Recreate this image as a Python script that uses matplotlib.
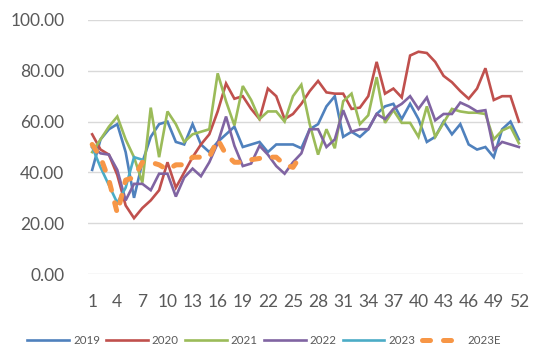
import matplotlib
matplotlib.use("Agg")
import matplotlib.pyplot as plt

weeks = list(range(1, 53))
y2019 = [41, 53, 57, 59, 48, 30, 44, 54, 59, 60, 52, 51, 59, 51, 48, 52, 55, 58, 50, 51,
         52, 48, 51, 51, 51, 49.5, 57, 59, 66, 70, 54, 56, 54, 57, 63, 66, 67, 61, 67, 61,
         52, 54, 60, 55, 59, 51, 49, 50, 46, 57, 60, 53]
y2020 = [55, 49, 47, 39, 27, 22, 26, 29, 33, 44, 34, 40, 46, 51, 55, 64, 75, 69, 70, 65,
         61, 73, 70, 61, 63, 67, 72, 76, 71.5, 71, 71, 65, 65.5, 70, 83.5, 71, 73, 69.5, 86, 87.5,
         87, 83.5, 78, 75.5, 72, 69, 73, 81, 68.5, 70, 70, 60]
y2021 = [48, 53, 58, 62, 53, 46, 36, 65.5, 46, 64, 59, 52, 55, 56, 57, 79, 68, 58.5, 74, 68.5,
         61, 64, 64, 60, 70, 74.5, 59, 47, 57, 49.5, 68, 71, 59, 62.5, 77.5, 59.5, 64.5, 59.5, 59.5, 54,
         66, 54, 59.5, 65, 64, 63.5, 63.5, 63, 53, 56.5, 58, 51.5]
y2022 = [50, 47.5, 47, 41, 29, 35.5, 35.5, 33, 39.5, 39.5, 30.5, 38, 41.5, 38.5, 44, 51.5, 62, 50.5, 42.5, 43.5,
         50.5, 47, 42.5, 39.5, 44, 47.5, 57, 57, 50, 53, 64.5, 56, 57, 57, 63, 61, 65, 67, 70, 65,
         69.5, 60.5, 63, 63, 67.5, 66, 64, 64.5, 49, 52, 51, 50]
y2023 = [50, 42, 35, 28, 34, 46, 45]
y2023e = [51, 46, 37, 24, 37, 38, 44, 44, 43, 41, 43, 43, 46, 46, 46, 53, 47, 44, 44, 45,
          45.5, 46, 46, 43, 42, 47]
series_names = ["2019", "2020", "2021", "2022", "2023", "2023E"]
yticks = [0, 20, 40, 60, 80, 100]
xticks = list(range(1, 53, 3))

colors = ["#4F81BD", "#C0504D", "#9BBB59", "#8064A2", "#4BACC6", "#F79646"]
txt = "#595959"
plt.rcParams['font.family'] = ['Lato', 'DejaVu Sans']

fig = plt.figure(figsize=(5.5, 3.63), dpi=100)
ax = fig.add_axes([0.16, 0.245, 0.791, 0.70])

data = [y2019, y2020, y2021, y2022, y2023]
for name, ys, c in zip(series_names[:5], data, colors[:5]):
    ax.plot(weeks[:len(ys)], ys, color=c, lw=1.9, label=name, solid_joinstyle='miter')
ax.plot(weeks[:len(y2023e)], y2023e, color=colors[5], lw=3.6, label="2023E",
        linestyle=(0, (1.6, 2.6)), dash_capstyle='round')

ax.set_xlim(0.5, 52.5)
ax.set_ylim(0, 100)
ax.set_yticks(yticks)
ax.set_yticklabels([f"{v:.2f}" for v in yticks])
ax.set_xticks(xticks)
ax.grid(axis='y', color='#D9D9D9', lw=1)
ax.set_axisbelow(True)
for s in ax.spines.values():
    s.set_visible(False)
ax.tick_params(axis='both', length=0, colors=txt, labelsize=12.5)
ax.tick_params(axis='y', pad=17)
ax.tick_params(axis='x', pad=14)

leg = ax.legend(loc='upper center', bbox_to_anchor=(0.405, -0.2), ncol=6, frameon=False,
                fontsize=8.3, handlelength=3.6, handletextpad=0.35, columnspacing=0.55,
                labelcolor=txt)
fig.savefig("out.png", dpi=100)
